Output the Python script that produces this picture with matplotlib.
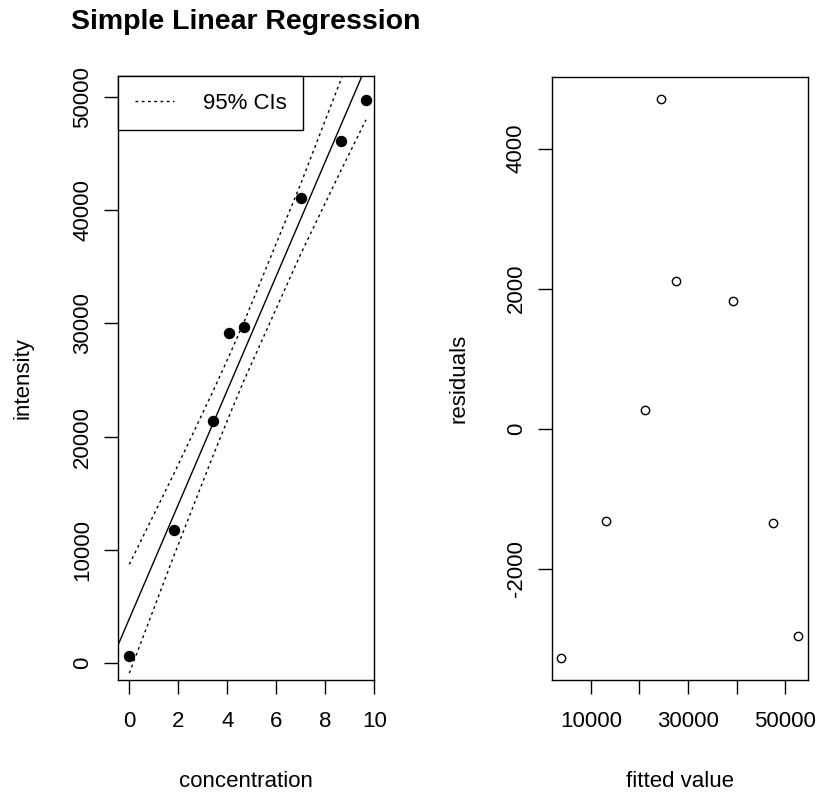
import numpy as np
import matplotlib
matplotlib.use("Agg")
import matplotlib.pyplot as plt

plt.rcParams['font.family'] = ['Liberation Sans', 'DejaVu Sans']
plt.rcParams['axes.unicode_minus'] = False

# data
concentration = [0.0, 1.82, 3.40, 4.07, 4.68, 7.00, 8.63, 9.66]
intensity = [640, 11780, 21350, 29170, 29650, 41080, 46140, 49730]
t_crit = 2.447  # t quantile, df = 6, 95%

x = np.array(concentration)
y = np.array(intensity)
n = len(x)

# least squares fit and 95% CI for the mean
b1, b0 = np.polyfit(x, y, 1)
fitted = b0 + b1 * x
resid = y - fitted
s = np.sqrt(np.sum(resid ** 2) / (n - 2))
xbar = x.mean()
sxx = np.sum((x - xbar) ** 2)
order = np.argsort(x)
xs = x[order]
fs = b0 + b1 * xs
half = t_crit * s * np.sqrt(1.0 / n + (xs - xbar) ** 2 / sxx)

W, H = 818, 795
fig = plt.figure(figsize=(W / 100, H / 100), dpi=100)
ax1 = fig.add_axes([118.3 / W, 1 - 680.3 / H, 256 / W, 604.3 / H])
ax2 = fig.add_axes([551.7 / W, 1 - 680.0 / H, 256 / W, 603.3 / H])

dots = (0, (2, 2.5))

# left panel: data, fit, CI
ax1.plot(x, y, 'o', color='black', markersize=7.2)
ax1.axline((0, b0), slope=b1, color='black', lw=1)
ci_line, = ax1.plot(xs, fs + half, color='black', lw=1, linestyle=dots)
ax1.plot(xs, fs - half, color='black', lw=1, linestyle=dots)
ax1.set_xlim(-0.45, 10.0)
ax1.set_ylim(-1530, 51870)
ax1.set_xticks([0, 2, 4, 6, 8, 10])
ax1.set_yticks([0, 10000, 20000, 30000, 40000, 50000])

leg = ax1.legend([ci_line], ['95% CIs'], loc='upper left', borderaxespad=0,
                 fancybox=False, edgecolor='black', framealpha=1, fontsize=16,
                 handlelength=1.76, handletextpad=1.3, borderpad=0.75)
leg.get_frame().set_linewidth(1)

# right panel: residuals vs fitted
ax2.plot(fitted, resid, 'o', markerfacecolor='none', markeredgecolor='black',
         markersize=6, markeredgewidth=1)
fr = fitted.max() - fitted.min()
rr = resid.max() - resid.min()
ax2.set_xlim(fitted.min() - 0.04 * fr, fitted.max() + 0.04 * fr)
ax2.set_ylim(resid.min() - 0.04 * rr, resid.max() + 0.04 * rr)
ax2.set_xticks([10000, 20000, 30000, 40000, 50000])
ax2.set_xticklabels(['10000', '', '30000', '', '50000'])
ax2.set_yticks([-2000, 0, 2000, 4000])

for ax in (ax1, ax2):
    for sp in ax.spines.values():
        sp.set_linewidth(1)
    ax.tick_params(axis='both', direction='out', length=10, width=1,
                   labelsize=16, colors='black')
    ax.tick_params(axis='x', pad=12)
    ax.tick_params(axis='y', pad=8, labelrotation=90)
    for lab in ax.get_yticklabels():
        lab.set_va('center')

fig.text(246 / W, 1 - 29 / H, 'Simple Linear Regression', ha='center',
         va='baseline', fontsize=20.5, fontweight='bold')
fig.text(246 / W, 1 - 787 / H, 'concentration', ha='center', va='baseline', fontsize=16)
fig.text(679.7 / W, 1 - 787 / H, 'fitted value', ha='center', va='baseline', fontsize=16)
fig.text(23 / W, 1 - 378 / H, 'intensity', ha='center', va='center', rotation=90, fontsize=16)
fig.text(459 / W, 1 - 378 / H, 'residuals', ha='center', va='center', rotation=90, fontsize=16)

fig.savefig('out.png', dpi=100)
